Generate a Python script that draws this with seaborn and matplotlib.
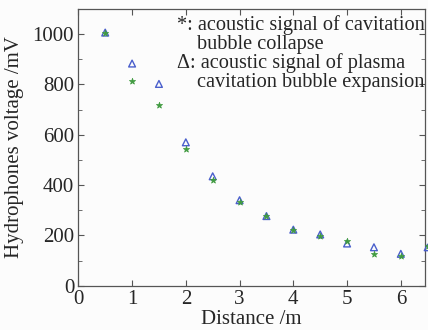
import numpy as np
import pandas as pd
import matplotlib
matplotlib.use('Agg')
import matplotlib.pyplot as plt
import seaborn as sns

# Values
distance = [0.5, 1.0, 1.5, 2.0, 2.5, 3.0, 3.5, 4.0, 4.5, 5.0, 5.5, 6.0, 6.5]
expansion_mv = [1006, 883, 802, 570, 435, 340, 277, 223, 204, 168, 153, 127, 153]
collapse_mv = [1006, 815, 719, 544, 419, 331, 277, 223, 197, 178, 128, 120, 160]

x_ticks = [0, 1, 2, 3, 4, 5, 6]
y_ticks = [0, 200, 400, 600, 800, 1000]

# (indent, text) for the text legend
legend_lines = [
    (0, '*: acoustic signal of cavitation'),
    (1, 'bubble collapse'),
    (0, '\u0394: acoustic signal of plasma'),
    (1, 'cavitation bubble expansion'),
]


def main():
    sns.set_style('ticks')
    plt.rcParams['font.family'] = ['Liberation Serif', 'DejaVu Serif']

    df = pd.DataFrame({
        'distance': distance,
        'expansion': expansion_mv,
        'collapse': collapse_mv,
    })

    fig = plt.figure(figsize=(4.28, 3.30), dpi=100, facecolor='#fcfcfc')
    ax = fig.add_axes([0.183, 0.134, 0.810, 0.839])
    ax.set_facecolor('#fcfcfc')

    sns.scatterplot(data=df, x='distance', y='expansion', ax=ax, marker='^',
                    s=24, facecolor='none', edgecolor='#4a5fcc', linewidth=1.0,
                    clip_on=False, zorder=3)
    sns.scatterplot(data=df, x='distance', y='collapse', ax=ax, marker='*',
                    s=22, color='#3f9a3f', edgecolor='#3f9a3f', linewidth=0.5,
                    clip_on=False, zorder=4)

    ax.set_xlim(0, 6.45)
    ax.set_ylim(0, 1100)
    ax.set_xticks(x_ticks)
    ax.set_yticks(y_ticks)
    ax.set_yticks(np.arange(100, 1100, 200), minor=True)
    ax.tick_params(which='both', direction='in', top=True, right=True,
                   labelsize=15, color='#555555', pad=3)
    ax.tick_params(which='major', length=4)
    ax.tick_params(which='minor', length=3)
    for sp in ax.spines.values():
        sp.set_color('#555555')
        sp.set_linewidth(0.9)

    ax.set_xlabel('Distance /m', fontsize=15, labelpad=1)
    ax.set_ylabel('Hydrophones voltage /mV', fontsize=15, labelpad=6)

    # Text legend in the upper right
    for i, (indent, line) in enumerate(legend_lines):
        fig.text(0.413 + indent * 0.047, 0.924 - i * 0.0576, line,
                 fontsize=14.6, va='center', ha='left')

    fig.savefig('out.png', dpi=100, facecolor=fig.get_facecolor())


if __name__ == '__main__':
    main()
